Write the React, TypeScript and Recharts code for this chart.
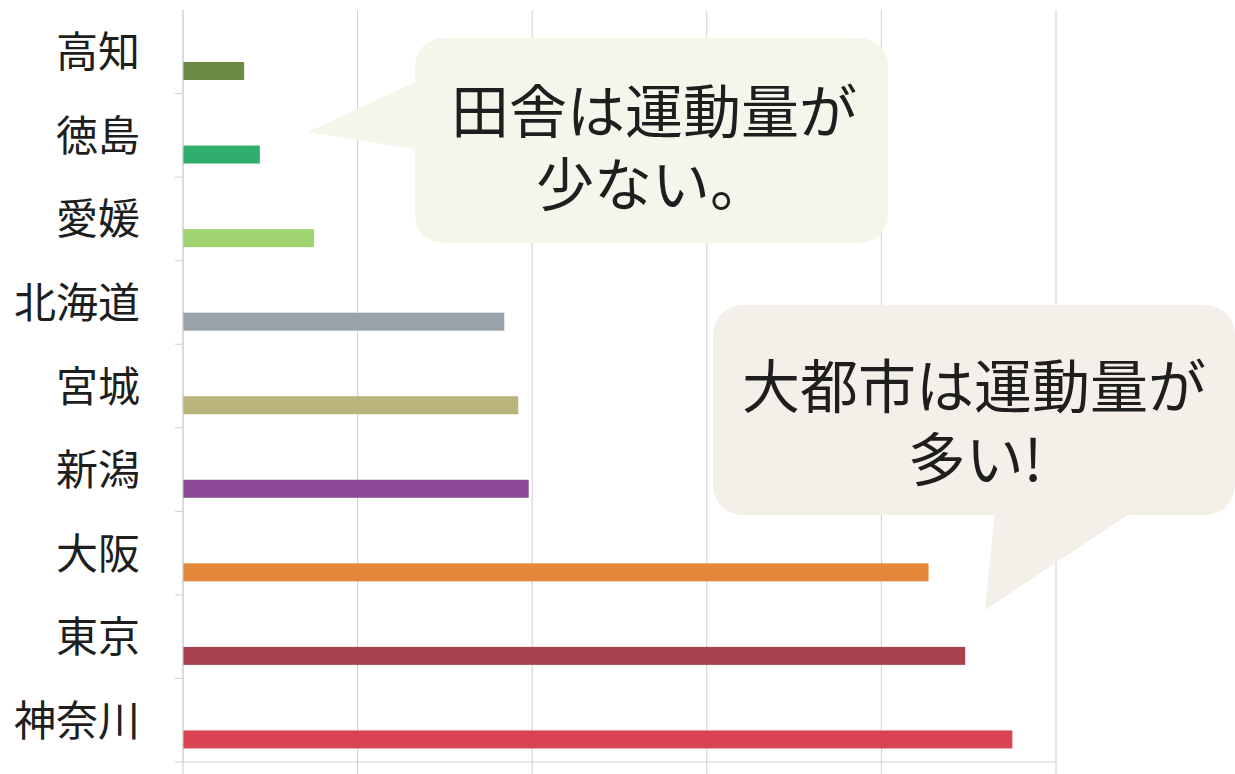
import { BarChart, Bar, XAxis, YAxis, CartesianGrid, Cell } from "recharts";

const W = 1235;
const H = 774;
const MARGIN = { top: 10, right: 179, bottom: 0, left: 0 };
const X_AXIS_H = 12;
const Y_AXIS_W = 183;

const prefectures = ["高知", "徳島", "愛媛", "北海道", "宮城", "新潟", "大阪", "東京", "神奈川"];
const activity = [0.35, 0.44, 0.75, 1.84, 1.92, 1.98, 4.27, 4.48, 4.75];
const barColors = [
  "#6a8a45", // 高知
  "#2fae6e", // 徳島
  "#9fd471", // 愛媛
  "#9aa2a9", // 北海道
  "#b9b37c", // 宮城
  "#8c4996", // 新潟
  "#e3873a", // 大阪
  "#a7424e", // 東京
  "#da4352", // 神奈川
];
const xTicks = [0, 1, 2, 3, 4, 5];

const data = prefectures.map((name, i) => ({ name, value: activity[i] }));

const PLOT_H = H - MARGIN.top - MARGIN.bottom - X_AXIS_H;
const BAND = PLOT_H / prefectures.length;
const BAR_SHIFT = 19; // bars sit in the lower part of each row
const GRID = "#cfcfcf";
const INK = "#1e1e1e";
const FONT = '"Noto Sans CJK JP", "Noto Sans", sans-serif';

function PrefTick({ y, payload }: { y?: number; payload?: { value: string } }) {
  const cy = y ?? 0;
  return (
    <g>
      <line x1={Y_AXIS_W - 8} x2={Y_AXIS_W} y1={cy + BAND / 2} y2={cy + BAND / 2} stroke={GRID} />
      <text
        x={140}
        y={cy - 3}
        textAnchor="end"
        dominantBaseline="central"
        fontSize={42}
        fontFamily={FONT}
        fill={INK}
      >
        {payload?.value}
      </text>
    </g>
  );
}

// x axis has no labels, only the tick marks under the axis line
function EmptyTick() {
  return <g />;
}

function ShiftedBar(props: any) {
  const { x, y, width, height, index } = props;
  return <rect x={x} y={y + BAR_SHIFT} width={width} height={height} fill={barColors[index]} />;
}

function Bubbles() {
  const txt = { textAnchor: "middle" as const, dominantBaseline: "central" as const, fontSize: 58, fontFamily: FONT, fill: INK };
  return (
    <svg
      width={W}
      height={H}
      style={{ position: "absolute", left: 0, top: 0, pointerEvents: "none" }}
    >
      {/* 田舎 bubble */}
      <polygon points="420,80 308,132 420,150" fill="#f6f5ec" />
      <rect x={415} y={38} width={473} height={205} rx={28} fill="#f6f5ec" />
      <text x={654} y={108} {...txt}>田舎は運動量が</text>
      <text x={652} y={181} {...txt}>少ない。</text>

      {/* 大都市 bubble */}
      <polygon points="995,510 985,610 1135,510" fill="#f4efe9" />
      <rect x={713} y={305} width={522} height={210} rx={30} fill="#f4efe9" />
      <text x={974} y={383} {...txt}>大都市は運動量が</text>
      <text x={975} y={456} {...txt}>多い!</text>
    </svg>
  );
}

export default function App() {
  return (
    <div style={{ position: "fixed", left: 0, top: 0, width: W, height: H, background: "#fff" }}>
      <BarChart width={W} height={H} data={data} layout="vertical" margin={MARGIN}>
        <CartesianGrid horizontal={false} stroke={GRID} />
        <XAxis
          type="number"
          domain={[0, 5]}
          ticks={xTicks}
          interval={0}
          height={X_AXIS_H}
          tickSize={12}
          tick={<EmptyTick />}
          stroke={GRID}
        />
        <YAxis
          type="category"
          dataKey="name"
          width={Y_AXIS_W}
          tickLine={false}
          stroke={GRID}
          tick={<PrefTick />}
          interval={0}
        />
        <Bar dataKey="value" barSize={18} shape={<ShiftedBar />} isAnimationActive={false}>
          {data.map((d, i) => (
            <Cell key={d.name} fill={barColors[i]} />
          ))}
        </Bar>
      </BarChart>
      <Bubbles />
    </div>
  );
}
